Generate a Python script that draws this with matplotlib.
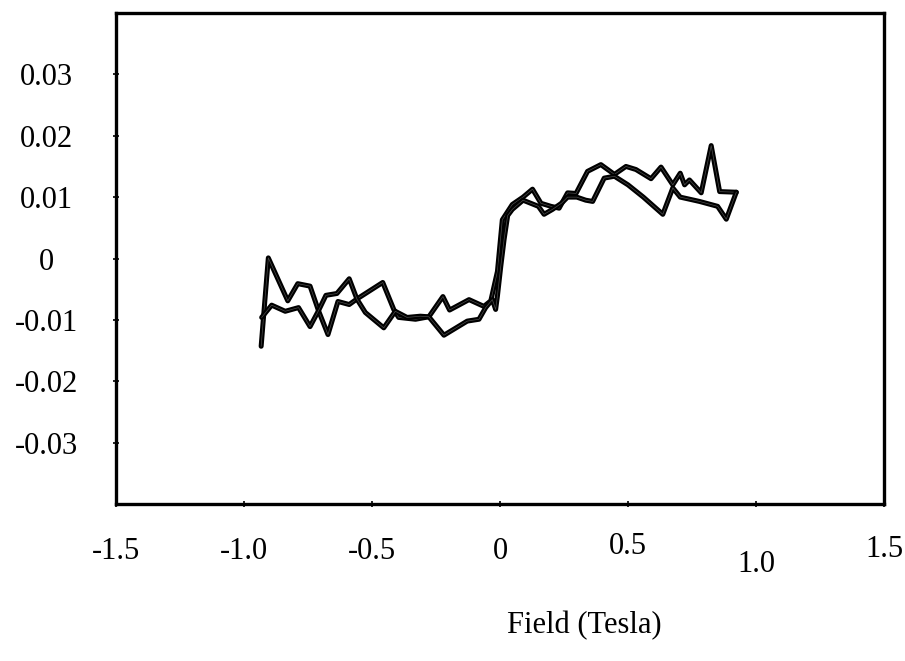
import matplotlib
matplotlib.use("Agg")
import matplotlib.pyplot as plt
import matplotlib.transforms as mtransforms

# Branch 1 (field, moment)
field_1 = [-0.933, -0.905, -0.829, -0.790, -0.742, -0.709, -0.672, -0.633, -0.589, -0.559,
           -0.458, -0.415, -0.396, -0.330, -0.278, -0.223, -0.197, -0.121, -0.063, -0.036,
           -0.010, 0.009, 0.048, 0.090, 0.127, 0.160, 0.199, 0.231, 0.264, 0.297,
           0.342, 0.394, 0.447, 0.492, 0.531, 0.590, 0.629, 0.675, 0.704, 0.721,
           0.740, 0.786, 0.825, 0.858, 0.923]
moment_1 = [-0.0143, 0.0001, -0.0069, -0.0041, -0.0045, -0.0085, -0.0124, -0.0070, -0.0075, -0.0066,
            -0.0039, -0.0083, -0.0096, -0.0099, -0.0095, -0.0062, -0.0084, -0.0067, -0.0078, -0.0069,
            -0.0021, 0.0063, 0.0088, 0.0100, 0.0113, 0.0090, 0.0085, 0.0082, 0.0107, 0.0106,
            0.0142, 0.0153, 0.0137, 0.0150, 0.0145, 0.0130, 0.0149, 0.0120, 0.0139, 0.0120,
            0.0128, 0.0107, 0.0184, 0.0109, 0.0108]

# Branch 2
field_2 = [-0.931, -0.892, -0.839, -0.787, -0.742, -0.709, -0.680, -0.637, -0.589, -0.559,
           -0.526, -0.454, -0.409, -0.363, -0.311, -0.278, -0.219, -0.128, -0.082, -0.056,
           -0.030, -0.017, -0.010, 0.003, 0.016, 0.030, 0.048, 0.090, 0.150, 0.172,
           0.205, 0.240, 0.264, 0.300, 0.335, 0.362, 0.407, 0.447, 0.500, 0.560,
           0.636, 0.675, 0.704, 0.747, 0.779, 0.850, 0.884, 0.923]
moment_2 = [-0.0096, -0.0076, -0.0086, -0.0080, -0.0111, -0.0085, -0.0060, -0.0057, -0.0033, -0.0066,
            -0.0088, -0.0113, -0.0086, -0.0096, -0.0094, -0.0095, -0.0125, -0.0102, -0.0099, -0.0080,
            -0.0067, -0.0083, -0.0061, -0.0013, 0.0031, 0.0070, 0.0080, 0.0095, 0.0085, 0.0072,
            0.0080, 0.0090, 0.0100, 0.0100, 0.0095, 0.0093, 0.0131, 0.0134, 0.0120, 0.0100,
            0.0072, 0.0115, 0.0100, 0.0096, 0.0093, 0.0085, 0.0064, 0.0108]

x_ticks = [-1.5, -1.0, -0.5, 0.0, 0.5, 1.0, 1.5]
x_tick_labels = ["-1.5", "-1.0", "-0.5", "0", "0.5", "1.0", "1.5"]
y_ticks = [-0.03, -0.02, -0.01, 0.0, 0.01, 0.02, 0.03]
y_tick_labels = ["-0.03", "-0.02", "-0.01", "0", "0.01", "0.02", "0.03"]
x_label = "Field (Tesla)"

plt.rcParams['font.family'] = ['Liberation Serif', 'DejaVu Serif']

fig = plt.figure(figsize=(9.05, 6.61), dpi=100)
ax = fig.add_axes([116 / 905, 1 - 504 / 661, (884 - 116) / 905, (504 - 13) / 661])

for fx, my in ((field_1, moment_1), (field_2, moment_2)):
    ax.plot(fx, my, color='black', lw=3.6, solid_joinstyle='round', solid_capstyle='round')
    ax.plot(fx, my, color='white', lw=0.5, alpha=0.3, solid_joinstyle='round')

ax.set_xlim(-1.5, 1.5)
ax.set_ylim(-0.04, 0.04)
ax.set_xticks(x_ticks)
ax.set_xticklabels(x_tick_labels, fontsize=22)
ax.set_yticks(y_ticks)
ax.set_yticklabels(y_tick_labels, fontsize=22, ha='center')
ax.tick_params(axis='y', direction='inout', length=4, width=1.2, pad=48)
ax.tick_params(axis='x', direction='inout', length=4, width=1.2, pad=22)

for s in ax.spines.values():
    s.set_linewidth(2.4)

# individual label offsets as in the scanned figure
offsets = {"0.5": 5, "1.0": -13, "1.5": 2}
for lab in ax.get_xticklabels():
    dy = offsets.get(lab.get_text(), 0)
    if dy:
        lab.set_transform(lab.get_transform() + mtransforms.ScaledTranslation(0, dy / 100, fig.dpi_scale_trans))

fig.text(584 / 905, 1 - 626 / 661, x_label, fontsize=22, ha='center', va='center')

fig.savefig("out.png", dpi=100, facecolor='white')
